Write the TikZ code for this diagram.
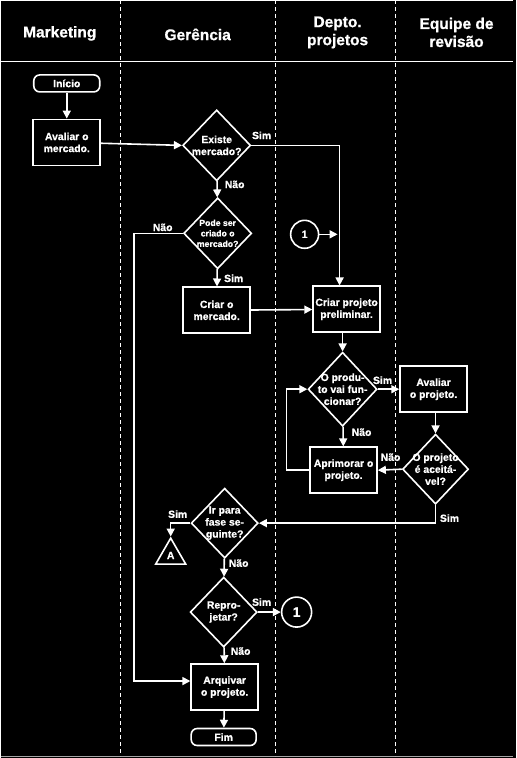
\documentclass[tikz,border=0pt]{standalone}
\usepackage{fontspec}
\setmainfont{Liberation Sans}[BoldFeatures={FakeBold=0.8}]
\usetikzlibrary{shapes.geometric,arrows.meta}
\tikzset{
  proc/.style={draw, fill=black, line width=1.6pt, minimum width=67pt, minimum height=46pt, align=center, inner sep=2pt},
  decis/.style={diamond, draw, fill=black, line width=1.6pt, minimum width=68pt, minimum height=71pt, align=center, inner sep=-5pt},
  term/.style={draw, fill=black, line width=1.6pt, rounded corners=6pt, minimum width=66pt, minimum height=17pt, inner sep=1pt},
  conn/.style={circle, draw, fill=black, line width=1.6pt, inner sep=0pt},
  flow/.style={line width=1.6pt, -{Triangle[length=8pt,width=8pt]}},
  lbl/.style={inner sep=0pt},
  lane/.style={dash pattern=on 4pt off 3pt, line width=0.9pt},
  head/.style={font=\bfseries\fontsize{15.5}{18}\selectfont, align=center}
}
\begin{document}
\begin{tikzpicture}[x=1pt,y=-1pt,white,font=\bfseries\fontsize{10.4}{12}\selectfont]
    \fill[black] (0,0) rectangle (516,758);
    \draw[line width=1pt] (0,0.5) -- (513,0.5);
    \draw[line width=1.6pt] (0,61) -- (513,61);
    \draw[line width=1.6pt, gray!70] (0,756.5) -- (513,756.5);
    \foreach \lx in {120,275,395} \draw[lane] (\lx,0) -- (\lx,756);

    \node[head] (hmkt) at (59,33) {Marketing};
    \node[head] (hger) at (197,34) {Gerência};
    \node[head] (hdep) at (337,32) {Depto.\\projetos};
    \node[head] (hequ) at (456,32) {Equipe de\\revisão};

    \node[term] (ini) at (66,83) {Início};
    \node[proc] (avm) at (66,142) {Avaliar o\\mercado.};
    \node[decis] (exist) at (216,145) {Existe\\mercado?};
    \node[decis, font=\bfseries\fontsize{8.7}{10.5}\selectfont] (pode) at (217,233) {Pode ser\\criado o\\mercado?};
    \node[proc] (crm) at (216,310) {Criar o\\mercado.};
    \node[conn, minimum size=28pt] (c1a) at (304,234) {1};
    \coordinate (c1end) at (337,234);
    \node[proc] (crpp) at (346,309) {Criar projeto\\preliminar.};
    \node[decis, minimum width=69pt, minimum height=74pt] (prod) at (342,389) {O produ-\\to vai fun-\\cionar?};
    \node[proc] (avp) at (433,389) {Avaliar\\o projeto.};
    \node[decis, minimum width=66pt, minimum height=70pt] (proj) at (435,469) {O projeto\\é aceitá-\\vel?};
    \node[proc] (aprim) at (343,470) {Aprimorar o\\projeto.};
    \node[decis, minimum width=67pt, minimum height=70pt] (ir) at (224,523) {Ir para\\fase se-\\guinte?};
    \node[regular polygon, regular polygon sides=3, draw, line width=1.6pt, minimum size=34.6pt, inner sep=0pt] (triA) at (170,555.3) {A};
    \node[decis, minimum width=67pt, minimum height=70pt] (repro) at (223,612) {Repro-\\jetar?};
    \node[conn, minimum size=30pt, font=\bfseries\fontsize{14}{16}\selectfont] (c1b) at (296,612) {1};
    \node[proc] (arq) at (224,687) {Arquivar\\o projeto.};
    \node[term, minimum width=65pt] (fim) at (223,737) {Fim};

    \draw[flow] (ini) -- (avm);
    \draw[flow] (avm) -- (exist.west);
    \draw[flow] (exist.east) -| ([xshift=-7pt]crpp.north);
    \draw[flow] (exist) -- (pode);
    \draw[flow] (pode.west) -- (133,233) -- (133,681) -- ([yshift=6pt]arq.west);
    \draw[flow] (pode) -- (crm);
    \draw[flow] (crm) -- (crpp);
    \draw[flow] (c1a) -- (c1end);
    \draw[flow] (crpp.south -| prod.north) -- (prod.north);
    \draw[flow] (prod) -- (avp);
    \draw[flow] (prod) -- (aprim);
    \draw[flow] (aprim.west) -- ++(-23,0) |- (prod.west);
    \draw[flow] (avp.south -| proj.north) -- (proj.north);
    \draw[flow] (proj.west) -- (aprim.east);
    \draw[flow] (proj.south) |- (ir.east);
    \draw[flow] (ir.west) -| (triA.corner 1);
    \draw[flow] (ir) -- (repro);
    \draw[flow] (repro) -- (c1b);
    \draw[flow] (repro) -- (arq);
    \draw[flow] (arq) -- (fim);

    \node[lbl] (l1) at (261,135) {Sim};
    \node[lbl] (l2) at (234,184) {Não};
    \node[lbl] (l3) at (162,227) {Não};
    \node[lbl] (l4) at (233,278) {Sim};
    \node[lbl] (l5) at (382,380) {Sim};
    \node[lbl] (l6) at (361,432) {Não};
    \node[lbl] (l7) at (390,457) {Não};
    \node[lbl] (l8) at (449,518) {Sim};
    \node[lbl] (l9) at (177,514) {Sim};
    \node[lbl] (l10) at (238,563) {Não};
    \node[lbl] (l11) at (261,602) {Sim};
    \node[lbl] (l12) at (240,651) {Não};
\end{tikzpicture}
\end{document}
